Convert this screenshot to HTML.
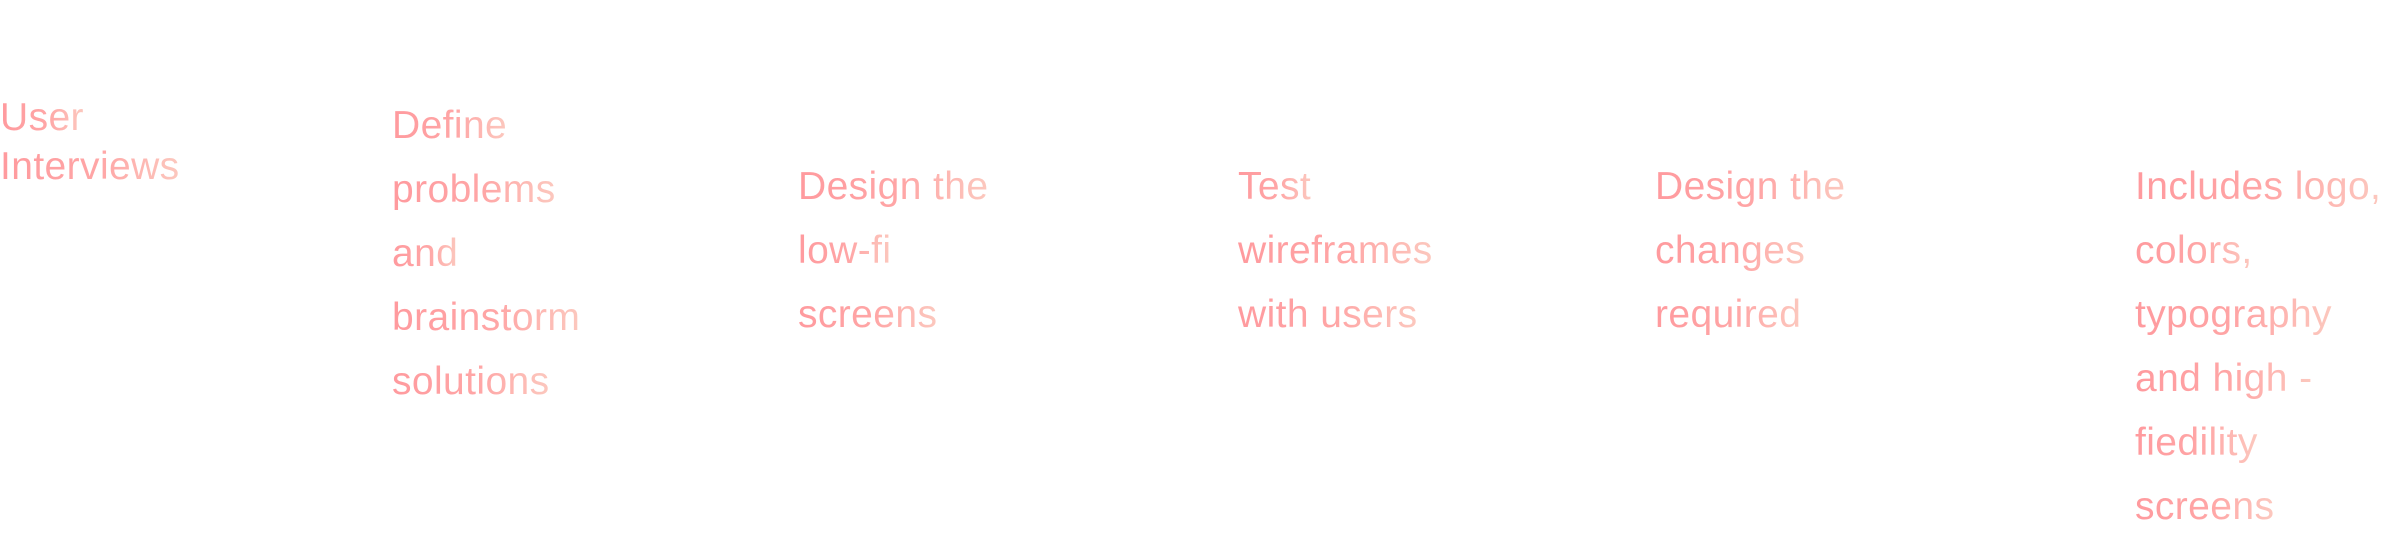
<!DOCTYPE html>
<html><head><meta charset="utf-8"><style>
html,body{margin:0;padding:0;background:#fff;width:2408px;height:536px;overflow:hidden}
.c{position:absolute;font-family:"Liberation Sans",sans-serif;font-size:39px;line-height:64px;white-space:nowrap;letter-spacing:0.4px}
.c span{display:inline-block;background:linear-gradient(90deg,#ff9a9e 0%,#ffa6a6 55%,#fcc8be 100%);-webkit-background-clip:text;background-clip:text;color:transparent}
.u{line-height:49px}
</style></head><body>
<div class="c u" style="left:0;top:93px"><span>User</span><br><span>Interviews</span></div>
<div class="c" style="left:392px;top:94px"><span>Define</span><br><span>problems</span><br><span>and</span><br><span>brainstorm</span><br><span>solutions</span></div>
<div class="c" style="left:798px;top:155px"><span>Design the</span><br><span>low-fi</span><br><span>screens</span></div>
<div class="c" style="left:1238px;top:155px"><span>Test</span><br><span>wireframes</span><br><span>with users</span></div>
<div class="c" style="left:1655px;top:155px"><span>Design the</span><br><span>changes</span><br><span>required</span></div>
<div class="c" style="left:2135px;top:155px"><span>Includes logo,</span><br><span>colors,</span><br><span>typography</span><br><span>and high -</span><br><span>fiedility</span><br><span>screens</span></div>
</body></html>
